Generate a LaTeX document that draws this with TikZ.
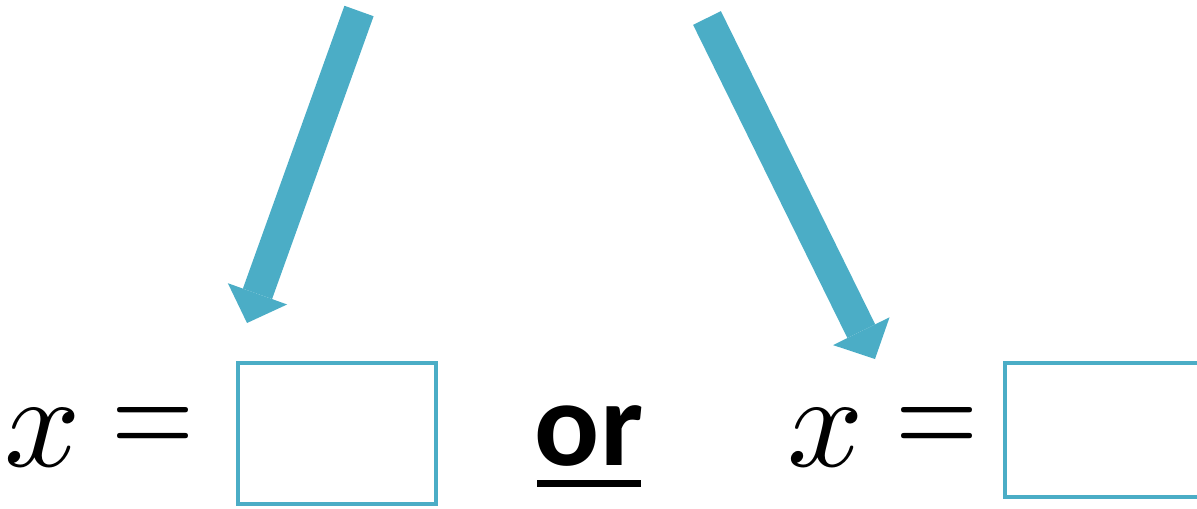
\documentclass[tikz,border=0pt]{standalone}
\usepackage{fontspec}
\newfontfamily\calibri{Carlito}
\usetikzlibrary{arrows.meta}
\definecolor{boxblue}{RGB}{75,173,198}

\begin{document}
\begin{tikzpicture}[x=0.02cm,y=0.02cm,
  bigsym/.style={inner sep=0pt,scale=7.6},
  eqsign/.style={bigsym,xscale=0.8},
  answerbox/.style={draw=boxblue,line width=0.08cm,minimum width=3.96cm,inner sep=0pt},
  fatarrow/.style={boxblue,line width=0.62cm,-{Triangle[width=1.26cm,length=0.62cm,line width=0pt]}}]
\useasboundingbox (0,0) rectangle (1197,508);
\clip (0,0) rectangle (1197,508);
\node[bigsym] (xa) at (42.5,70) {$x$};
\node[eqsign] (eqa) at (153.5,76) {$=$};
\node[answerbox,minimum height=2.82cm] (boxa) at (337,74.5) {};
\node[inner sep=0pt,anchor=base,font=\calibri\bfseries\fontsize{69}{72}\selectfont] (orword) at (589,43) {or};
\fill (537,21) rectangle (641,28);
\node[bigsym] (xb) at (826,70) {$x$};
\node[eqsign] (eqb) at (937.5,76) {$=$};
\node[answerbox,minimum width=6cm,minimum height=2.68cm] (boxb) at (1155,78) {};
\coordinate (taila) at (359,497);\coordinate (tipa) at (247,185);
\coordinate (tailb) at (707,490);\coordinate (tipb) at (875,149);
\draw[fatarrow] (taila)--(tipa);\draw[fatarrow] (tailb)--(tipb);
\end{tikzpicture}
\end{document}
